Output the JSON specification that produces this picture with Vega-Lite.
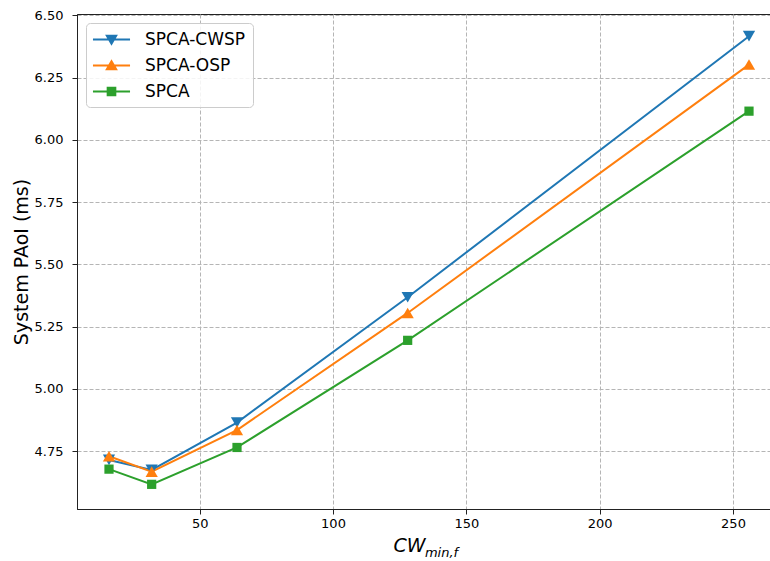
{
  "$schema": "https://vega.github.io/schema/vega-lite/v6.json",
  "width": 704,
  "height": 495,
  "padding": {"left": 12, "top": 9, "right": 0, "bottom": 0},
  "background": "white",
  "config": {
    "font": "DejaVu Sans",
    "view": {"stroke": "#222222", "strokeWidth": 1},
    "axis": {
      "domainColor": "#222222",
      "tickColor": "#222222",
      "tickSize": 5,
      "labelColor": "#000000",
      "labelFontSize": 13,
      "titleColor": "#000000",
      "titleFontWeight": "normal",
      "gridColor": "#b5b5b5",
      "gridDash": [4, 2],
      "gridWidth": 1
    }
  },
  "data": {
    "values": [
      {"series": "SPCA-CWSP", "cw": 16, "paoi": 4.715},
      {"series": "SPCA-CWSP", "cw": 32, "paoi": 4.675},
      {"series": "SPCA-CWSP", "cw": 64, "paoi": 4.865},
      {"series": "SPCA-CWSP", "cw": 128, "paoi": 5.368},
      {"series": "SPCA-CWSP", "cw": 256, "paoi": 6.416},
      {"series": "SPCA-OSP", "cw": 16, "paoi": 4.73},
      {"series": "SPCA-OSP", "cw": 32, "paoi": 4.668},
      {"series": "SPCA-OSP", "cw": 64, "paoi": 4.835},
      {"series": "SPCA-OSP", "cw": 128, "paoi": 5.305},
      {"series": "SPCA-OSP", "cw": 256, "paoi": 6.302},
      {"series": "SPCA", "cw": 16, "paoi": 4.678},
      {"series": "SPCA", "cw": 32, "paoi": 4.617},
      {"series": "SPCA", "cw": 64, "paoi": 4.765},
      {"series": "SPCA", "cw": 128, "paoi": 5.195},
      {"series": "SPCA", "cw": 256, "paoi": 6.115}
    ]
  },
  "layer": [
    {
      "mark": {"type": "line", "strokeWidth": 2},
      "encoding": {
        "x": {
          "field": "cw",
          "type": "quantitative",
          "scale": {"domain": [4, 268], "nice": false, "zero": false},
          "axis": {
            "values": [50, 100, 150, 200, 250],
            "grid": true,
            "labelPadding": 3,
            "title": "CW",
            "titleFontSize": 19,
            "titleFontStyle": "italic",
            "titleAlign": "center",
            "titleBaseline": "alphabetic",
            "titleX": 332,
            "titleY": 42
          }
        },
        "y": {
          "field": "paoi",
          "type": "quantitative",
          "scale": {"domain": [4.518, 6.505], "nice": false, "zero": false},
          "axis": {
            "values": [4.75, 5.0, 5.25, 5.5, 5.75, 6.0, 6.25, 6.5],
            "format": ".2f",
            "grid": true,
            "labelPadding": 9,
            "title": "System PAoI (ms)",
            "titleFontSize": 19,
            "titlePadding": 3
          }
        },
        "color": {
          "field": "series",
          "type": "nominal",
          "scale": {
            "domain": ["SPCA-CWSP", "SPCA-OSP", "SPCA"],
            "range": ["#1f77b4", "#ff7f0e", "#2ca02c"]
          },
          "legend": {
            "title": null,
            "orient": "top-left",
            "offset": 9,
            "padding": 7,
            "fillColor": "rgba(255,255,255,0.85)",
            "strokeColor": "#cccccc",
            "cornerRadius": 4,
            "labelFontSize": 17,
            "labelColor": "#000000",
            "labelOffset": 24,
            "symbolOffset": 9,
            "symbolSize": 289,
            "rowPadding": 8,
            "encode": {
              "symbols": {
                "update": {
                  "shape": {"signal": "datum.value === 'SPCA-CWSP' ? 'M-2.18,0H2.18M-0.55,-0.45L0.55,-0.45L0,0.5Z' : datum.value === 'SPCA-OSP' ? 'M-2.18,0H2.18M-0.55,0.45L0.55,0.45L0,-0.5Z' : 'M-2.18,0H2.18M-0.45,-0.45H0.45V0.45H-0.45Z'"},
                  "fill": {"signal": "scale('color', datum.value)"},
                  "stroke": {"signal": "scale('color', datum.value)"},
                  "strokeWidth": {"value": 2},
                  "opacity": {"value": 1}
                }
              }
            }
          }
        }
      }
    },
    {
      "mark": {"type": "point", "filled": true, "opacity": 1},
      "encoding": {
        "x": {
          "field": "cw",
          "type": "quantitative",
          "axis": {
            "orient": "bottom",
            "labels": false,
            "ticks": false,
            "domain": false,
            "grid": false,
            "title": "min,f",
            "titleFontSize": 13,
            "titleFontStyle": "italic",
            "titleAlign": "center",
            "titleBaseline": "alphabetic",
            "titleX": 364,
            "titleY": 47
          }
        },
        "y": {"field": "paoi", "type": "quantitative"},
        "color": {"field": "series", "type": "nominal"},
        "shape": {
          "condition": [
            {"test": "datum.series === 'SPCA-CWSP'", "value": "triangle-down"},
            {"test": "datum.series === 'SPCA-OSP'", "value": "triangle-up"}
          ],
          "value": "square"
        },
        "size": {
          "condition": {"test": "datum.series === 'SPCA'", "value": 85},
          "value": 150
        }
      }
    }
  ],
  "resolve": {"axis": {"x": "independent"}}
}
